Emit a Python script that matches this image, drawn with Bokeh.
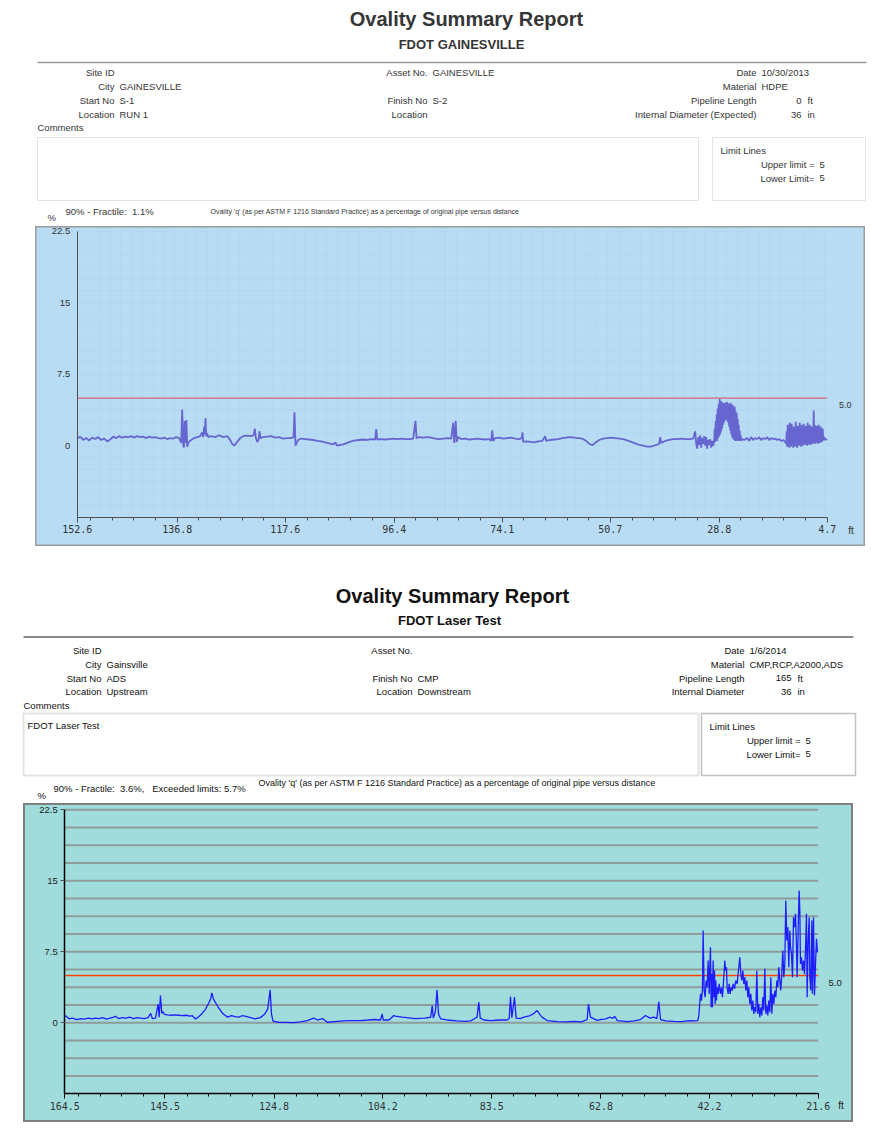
import numpy as np
from bokeh.plotting import figure
from bokeh.models import Range1d, Label, BoxAnnotation, FixedTicker, Spacer, PrintfTickFormatter
from bokeh.layouts import column, row
from bokeh.embed import file_html
from bokeh.resources import INLINE

# ======================= DATA =======================
TITLE = "Ovality Summary Report"
CAPTION = "Ovality 'q' (as per ASTM F 1216 Standard Practice) as a percentage of original pipe versus distance"

# ---- report 1 (scanned) ----
R1_SUBTITLE = "FDOT GAINESVILLE"
R1_LEFT_LABELS = ["Site ID", "City", "Start No", "Location"]
R1_LEFT_VALUES = ["", "GAINESVILLE", "S-1", "RUN 1"]
R1_MID_LABELS = ["Asset No.", "", "Finish No", "Location"]
R1_MID_VALUES = ["GAINESVILLE", "", "S-2", ""]
R1_RIGHT_LABELS = ["Date", "Material", "Pipeline Length", "Internal Diameter (Expected)"]
R1_RIGHT_VALUES = ["10/30/2013", "HDPE", "", ""]
R1_NUMBERS = ["", "", "0", "36"]
R1_UNITS = ["", "", "ft", "in"]
R1_COMMENT = ""
R1_UPPER = 5
R1_LOWER = 5
R1_STATS = "90% - Fractile:\u00a0 1.1%"

CH1_TICK_LABELS = ["152.6", "136.8", "117.6", "96.4", "74.1", "50.7", "28.8", "4.7"]
CH1_TICK_POS = [0, 100, 208, 317, 425, 533, 642, 750]       # sample position along run
CH1_LIMIT = 5.0
# (sample position, ovality %)
CH1_TRACE = [
    (0, 0.75), (3, 0.95), (6, 0.6), (9, 0.8), (12, 0.55), (15, 0.85), (18, 0.7), (21, 0.9), (24, 0.6),
    (27, 0.75), (30, 0.45), (33, 0.65), (36, 0.95), (39, 0.8), (42, 1.0), (45, 0.85), (48, 0.95), (51, 0.9),
    (54, 1.0), (57, 0.85), (60, 1.0), (63, 0.9), (66, 0.95), (69, 0.8), (72, 0.95), (75, 0.85), (78, 0.9),
    (81, 0.8), (84, 0.75), (87, 0.85), (90, 0.7), (93, 0.8), (96, 0.75), (99, 0.9), (102, 0.8), (104, 0.3),
    (105, 3.8), (106, 0.1), (106.7, -0.2), (107.5, 2.6), (108.3, 0.3), (109.2, 2.7), (110, -0.1), (111.5, 0.4),
    (114, 0.6), (117, 0.8), (120, 0.9), (123, 1.0), (125, 1.4), (126, 0.9), (127, 2.0), (127.6, 1.2),
    (128.3, 2.9), (129, 1.0), (130, 1.3), (131, 0.9), (134, 1.0), (138, 0.9), (142, 1.1), (146, 0.9),
    (150, 1.0), (153, 0.6), (155, 0.2), (157, 0.0), (160, 0.4), (163, 0.8), (166, 1.0), (170, 1.05),
    (174, 1.0), (176.5, 1.1), (177.6, 1.8), (178.5, 0.9), (180, 0.4), (181.3, 0.6), (182.3, 1.5), (183.3, 0.8),
    (186, 0.9), (190, 0.95), (194, 1.0), (198, 0.85), (202, 0.9), (206, 0.75), (210, 0.8), (214, 0.8),
    (216.3, 0.9), (217.3, 3.5), (218.3, 0.0), (219.5, 0.3), (221, 0.6), (224, 0.75), (228, 0.7), (232, 0.65),
    (236, 0.6), (240, 0.5), (244, 0.45), (248, 0.35), (252, 0.25), (256, 0.15), (258.3, 0.35), (259.3, 0.05),
    (262, 0.05), (266, 0.15), (270, 0.3), (274, 0.45), (278, 0.55), (282, 0.6), (286, 0.65), (290, 0.6),
    (294, 0.7), (298, 0.65), (299, 1.75), (300, 0.65), (304, 0.7), (308, 0.65), (312, 0.7), (316, 0.75),
    (320, 0.7), (324, 0.75), (328, 0.7), (332, 0.7), (336, 0.75), (338.3, 2.6), (339.3, 0.8), (342, 0.9),
    (346, 0.85), (350, 0.9), (354, 0.85), (358, 0.75), (362, 0.7), (366, 0.75), (370, 0.8), (374, 0.75),
    (376, 2.4), (377, 0.3), (378.5, 2.6), (379.5, 0.4), (381, 0.9), (384, 0.7), (388, 0.75), (392, 0.65),
    (396, 0.7), (400, 0.75), (404, 0.7), (408, 0.65), (412, 0.7), (414, 0.5), (415, 1.6), (416, 0.5),
    (418, 0.8), (422, 0.85), (426, 0.75), (430, 0.8), (434, 0.85), (438, 0.75), (442, 0.7), (444.5, 0.8),
    (445.3, 1.4), (446, 0.4), (449, 0.45), (453, 0.4), (457, 0.35), (461, 0.45), (465, 0.5), (468, 1.0),
    (469, 0.5), (473, 0.6), (477, 0.65), (481, 0.7), (485, 0.8), (489, 0.85), (493, 0.9), (497, 0.85),
    (501, 0.8), (505, 0.75), (509, 0.5), (512, 0.2), (515, 0.05), (518, 0.3), (522, 0.6), (526, 0.75),
    (530, 0.8), (534, 0.85), (538, 0.8), (542, 0.75), (546, 0.7), (550, 0.55), (554, 0.4), (558, 0.25),
    (562, 0.1), (566, 0.0), (570, -0.1), (574, -0.1), (578, 0.05), (582, 0.2), (583, 0.9), (584, 0.3),
    (588, 0.5), (592, 0.6), (596, 0.7), (600, 0.7), (604, 0.75), (608, 0.7), (612, 0.7), (616, 0.75),
    (618, 1.5), (619, 0.2), (620, -0.3), (621, 0.9), (622, 0.1), (623, 1.1), (624, -0.2), (625, 0.8),
    (626, 0.2), (627, 1.0), (628, 0.0), (629, 0.9), (630, -0.3), (631, 0.6), (632, 0.1), (633, 0.7),
    (634, -0.2), (635, 0.5), (636, 0.0),
    (637, 0.5), (637.5, 1.8), (638, 0.4), (638.5, 2.6), (639, 0.6), (639.5, 3.3), (640, 0.5), (640.5, 3.9),
    (641, 0.8), (641.5, 4.4), (642, 1.0), (642.5, 4.9), (643, 1.2), (643.5, 4.7), (644, 1.5), (644.5, 4.6),
    (645, 1.8), (645.5, 4.5), (646, 2.2), (646.5, 4.4), (647, 2.5), (647.5, 4.5), (648, 2.7), (648.5, 4.4),
    (649, 2.8), (649.5, 4.6), (650, 2.6), (650.5, 4.5), (651, 2.4), (651.5, 4.3), (652, 2.0), (652.5, 4.4),
    (653, 1.6), (653.5, 4.5), (654, 1.2), (654.5, 4.2), (655, 0.9), (655.5, 4.3), (656, 0.7), (656.5, 4.0),
    (657, 0.6), (657.5, 4.1), (658, 0.5), (658.5, 3.6), (659, 0.6), (659.5, 3.4), (660, 0.5), (660.5, 2.8),
    (661, 0.6), (661.5, 2.2), (662, 0.5), (662.5, 1.6), (663, 0.6), (663.5, 1.1), (664, 0.5), (665, 0.7),
    (667, 0.6), (670, 0.8), (672, 0.5), (674, 0.9), (676, 0.6), (678, 0.8), (680, 0.7), (682, 0.9),
    (684, 0.6), (686, 0.8), (688, 0.7), (690, 0.9), (692, 0.6), (694, 0.8), (696, 0.7), (698, 0.75),
    (700, 0.6), (702, 0.7), (704, 0.5), (706, 0.6), (708, 0.4),
    (709, 0.2), (709.5, 1.5), (710, -0.1), (710.5, 2.2), (711, 0.2), (711.5, 1.2), (712, -0.2), (712.5, 2.4),
    (713, 0.3), (713.5, 1.0), (714, -0.1), (714.5, 2.3), (715, 0.1), (715.5, 1.4), (716, -0.2), (716.5, 2.0),
    (717, 0.4), (717.5, 0.9), (718, -0.1), (718.5, 2.5), (719, 0.2), (719.5, 1.3), (720, -0.2), (720.5, 2.1),
    (721, 0.3), (721.5, 1.0), (722, 0.0), (722.5, 2.4), (723, 0.2), (723.5, 1.1), (724, -0.1), (724.5, 2.2),
    (725, 0.3), (725.5, 1.5), (726, 0.0), (726.5, 2.3), (727, 0.2), (727.5, 1.2), (728, 0.1), (728.5, 2.1),
    (729, 0.3), (729.5, 1.0), (730, 0.0), (730.5, 2.4), (731, 0.2), (731.5, 1.3), (732, 0.1), (732.5, 2.2),
    (733, 0.4), (733.5, 1.1), (734, 0.1), (734.5, 2.0), (735, 0.3), (735.5, 1.4), (736, 0.2), (736.5, 3.7),
    (737, 0.3), (737.5, 2.2), (738, 0.2), (738.5, 1.2), (739, 0.4), (739.5, 2.1), (740, 0.3), (740.5, 1.0),
    (741, 0.2), (741.5, 2.2), (742, 0.4), (742.5, 1.1), (743, 0.3), (743.5, 2.0), (744, 0.5), (744.5, 1.2),
    (745, 0.4), (745.5, 1.8), (746, 0.6), (747, 0.9), (748, 0.6), (750, 0.7),
]

# ---- report 2 ----
R2_SUBTITLE = "FDOT Laser Test"
R2_LEFT_LABELS = ["Site ID", "City", "Start No", "Location"]
R2_LEFT_VALUES = ["", "Gainsville", "ADS", "Upstream"]
R2_MID_LABELS = ["Asset No.", "", "Finish No", "Location"]
R2_MID_VALUES = ["", "", "CMP", "Downstream"]
R2_RIGHT_LABELS = ["Date", "Material", "Pipeline Length", "Internal Diameter"]
R2_RIGHT_VALUES = ["1/6/2014", "CMP,RCP,A2000,ADS", "", ""]
R2_NUMBERS = ["", "", "165", "36"]
R2_UNITS = ["", "", "ft", "in"]
R2_COMMENT = "FDOT Laser Test"
R2_UPPER = 5
R2_LOWER = 5
R2_STATS = "90% - Fractile:\u00a0 3.6%,\u00a0\u00a0 Exceeded limits: 5.7%"

CH2_TICKS = [164.5, 145.5, 124.8, 104.2, 83.5, 62.8, 42.2, 21.6]   # distance, ft
CH2_LIMIT = 5.0
# (distance ft, ovality %)
CH2_TRACE = [
    (164.4, 0.77), (163.7, 0.42), (163.1, 0.5), (162.2, 0.35), (161.5, 0.45), (160.9, 0.4), (160.0, 0.5),
    (159.3, 0.42), (158.7, 0.5), (158.0, 0.45), (157.3, 0.55), (156.6, 0.4), (155.9, 0.5), (155.2, 0.6),
    (154.9, 0.7), (154.3, 0.45), (153.6, 0.55), (152.9, 0.5), (152.2, 0.6), (151.5, 0.45), (150.8, 0.55),
    (150.1, 0.5), (149.4, 0.45), (148.7, 0.55), (148.2, 1.0), (147.9, 0.45), (147.3, 0.5), (146.8, 1.97),
    (146.6, 0.6), (146.35, 2.88), (146.1, 1.0), (145.9, 1.2), (145.6, 0.9), (145.0, 0.85), (144.3, 0.8),
    (143.6, 0.85), (142.9, 0.8), (142.2, 0.75), (141.5, 0.8), (140.8, 0.7), (140.3, 0.75), (139.7, 0.4),
    (139.1, 0.65), (138.5, 0.95), (137.9, 1.37), (137.2, 2.07), (136.8, 2.6), (136.6, 3.16), (136.3, 2.5),
    (135.4, 1.65), (134.5, 0.95), (133.6, 0.6), (132.9, 0.77), (132.2, 0.65), (131.5, 0.6), (130.9, 0.75),
    (130.3, 0.7), (129.6, 0.6), (128.9, 0.5), (128.5, 0.42), (127.4, 0.55), (126.6, 0.9), (126.0, 1.47),
    (125.55, 3.48), (125.3, 0.95), (125.0, 0.17), (124.0, 0.06), (122.8, 0.05), (121.1, 0.03), (119.8, 0.1),
    (118.5, 0.24), (117.3, 0.49), (116.5, 0.3), (115.6, 0.45), (114.7, 0.06), (112.8, 0.15), (110.9, 0.24),
    (108.4, 0.24), (106.9, 0.3), (105.8, 0.35), (104.6, 0.3), (104.3, 0.95), (104.1, 0.3), (103.0, 0.3),
    (102.1, 0.77), (101.8, 0.7), (100.5, 0.6), (98.0, 0.45), (96.2, 0.5), (95.1, 0.59), (94.8, 1.82),
    (94.6, 0.5), (94.2, 1.2), (93.9, 3.48), (93.6, 0.9), (93.2, 0.42), (92.0, 0.3), (90.1, 0.2), (88.5, 0.15),
    (87.5, 0.2), (86.9, 0.4), (86.3, 0.6), (85.97, 2.18), (85.7, 0.5), (85.0, 0.3), (83.8, 0.24), (82.0, 0.3),
    (80.6, 0.3), (80.2, 0.45), (79.96, 2.78), (79.7, 0.55), (79.2, 2.71), (78.9, 0.5), (78.1, 0.45),
    (77.4, 0.6), (76.2, 0.77), (75.5, 1.0), (74.9, 1.3), (74.4, 0.9), (74.0, 0.6), (73.0, 0.24), (71.1, 0.13),
    (69.5, 0.1), (67.95, 0.15), (66.5, 0.1), (65.42, 0.35), (65.17, 1.97), (64.79, 0.6), (63.5, 0.25),
    (62.9, 0.35), (62.0, 0.4), (61.6, 0.5), (61.0, 0.59), (60.6, 0.45), (60.2, 0.7), (59.73, 0.24),
    (57.83, 0.13), (56.5, 0.2), (55.3, 0.35), (54.36, 0.77), (53.5, 0.5), (52.77, 0.6), (52.2, 0.45),
    (51.83, 2.25), (51.5, 0.35), (50.5, 0.2), (48.98, 0.15), (47.5, 0.13), (46.45, 0.2), (45.82, 0.24),
    (45.19, 0.2), (44.43, 0.24), (44.24, 0.77), (43.92, 3.06), (43.73, 2.35), (43.54, 3.59), (43.42, 9.75),
    (43.23, 3.41), (43.04, 2.71), (42.85, 4.47), (42.66, 3.76), (42.47, 6.58), (42.28, 3.06), (42.15, 5.88),
    (42.03, 7.99), (41.9, 1.65), (41.77, 5.17), (41.65, 1.65), (41.52, 6.58), (41.39, 2.71), (41.27, 5.52),
    (41.14, 2.0), (41.02, 4.47), (40.89, 2.35), (40.76, 3.76), (40.57, 3.06), (40.38, 4.11), (40.13, 3.06),
    (39.94, 3.76), (39.75, 2.71), (39.5, 4.82), (39.31, 6.58), (39.18, 5.52), (38.99, 5.88), (38.87, 3.76),
    (38.68, 3.06), (38.49, 4.11), (38.3, 3.06), (38.11, 3.76), (37.92, 3.41), (37.73, 4.11), (37.47, 3.59),
    (37.22, 4.47), (36.97, 4.11), (36.72, 5.52), (36.46, 6.93), (36.27, 5.17), (36.08, 4.47), (35.89, 5.52),
    (35.7, 4.11), (35.51, 4.82), (35.32, 3.41), (35.13, 4.47), (34.94, 2.71), (34.76, 3.76), (34.57, 2.0),
    (34.38, 3.06), (34.19, 1.3), (34.0, 2.35), (33.81, 0.95), (33.62, 1.65), (33.43, 1.12), (33.24, 5.52),
    (33.05, 0.95), (32.86, 2.0), (32.67, 0.59), (32.48, 1.65), (32.29, 0.77), (32.1, 2.71), (31.91, 1.3),
    (31.72, 5.7), (31.53, 0.95), (31.34, 1.83), (31.15, 0.77), (30.96, 2.35), (30.77, 1.12), (30.58, 4.82),
    (30.39, 0.95), (30.2, 3.06), (30.01, 2.0), (29.82, 3.41), (29.63, 2.71), (29.44, 4.47), (29.26, 3.76),
    (29.07, 5.88), (28.88, 4.47), (28.69, 3.41), (28.5, 5.17), (28.31, 7.64), (28.12, 4.82), (27.93, 6.23),
    (27.74, 12.92), (27.55, 8.69), (27.36, 10.1), (27.17, 5.88), (26.98, 9.75), (26.85, 7.99), (26.66, 7.28),
    (26.47, 4.82), (26.28, 11.16), (26.09, 10.1), (25.9, 11.51), (25.71, 7.99), (25.59, 4.82), (25.4, 9.75),
    (25.21, 13.97), (25.08, 11.86), (24.96, 6.23), (24.77, 6.93), (24.58, 5.52), (24.39, 6.58), (24.2, 5.17),
    (24.01, 7.64), (23.82, 11.51), (23.69, 2.71), (23.5, 8.69), (23.31, 11.16), (23.18, 4.82), (22.99, 3.41),
    (22.8, 10.8), (22.68, 3.06), (22.49, 11.16), (22.3, 2.88), (22.11, 6.23), (21.92, 8.87), (21.73, 7.46),
]

# ======================= STYLE HELPERS =======================
W = 875


def header_fig(top, bottom):
    p = figure(width=W, height=bottom - top, x_range=Range1d(0, W), y_range=Range1d(bottom, top),
               output_backend="svg", toolbar_location=None, min_border=0,
               x_axis_location=None, y_axis_location=None)
    p.grid.visible = False
    p.outline_line_color = None
    p.background_fill_color = "white"
    p.border_fill_color = "white"
    return p


def put(p, x, y, s, size="9.5px", align="left", bold=False, color="#222222", font="Liberation Sans"):
    if s == "":
        return
    p.add_layout(Label(x=x, y=y, text=s, text_font=font, text_font_size=size, text_align=align,
                       text_baseline="middle", text_font_style="bold" if bold else "normal",
                       text_color=color))


def box(p, l, t, r, b, color, width):
    p.add_layout(BoxAnnotation(left=l, right=r, top=t, bottom=b, fill_alpha=0,
                               line_color=color, line_width=width))


def header(p, g, subtitle, lls, lvs, mls, mvs, rls, rvs, nums, units, comment, upper, lower, stats):
    c = g["color"]
    put(p, g["title_x"], g["title_y"], TITLE, size="20px", align="center", bold=True, color=c)
    put(p, g["sub_x"], g["sub_y"], subtitle, size="13px", align="center", bold=True, color=c)
    p.line(g["rule_x"], [g["rule_y"]] * 2, line_color=g["rule_color"], line_width=g["rule_w"])
    for i, y in enumerate(g["rows"]):
        put(p, g["lx"], y, lls[i], align="right", color=c)
        put(p, g["lx"] + 5, y, lvs[i], color=c)
        put(p, g["mx"], y, mls[i], align="right", color=c)
        put(p, g["mx"] + 5, y, mvs[i], color=c)
        put(p, g["rx"], y, rls[i], align="right", color=c)
        put(p, g["rx"] + 5, y, rvs[i], color=c)
        put(p, g["nx"], y, nums[i], align="right", color=c)
        put(p, g["nx"] + 6, y, units[i], color=c)
    put(p, g["cx"], g["cy"], "Comments", color=c)
    box(p, *g["cbox"], g["cbox_color"], g["cbox_w"])
    put(p, g["cbox"][0] + 4, g["cbox"][1] + 12, comment, color=c)
    box(p, *g["lbox"], g["lbox_color"], g["lbox_w"])
    l, t = g["lbox"][0], g["lbox"][1]
    put(p, l + 8, t + 13, "Limit Lines", color=c)
    put(p, g["lim_x"], t + 27, "Upper limit =", align="right", color=c)
    put(p, g["lim_x"] + 5, t + 27, str(upper), color=c)
    put(p, g["lim_x"], t + 40.5, "Lower Limit=", align="right", color=c)
    put(p, g["lim_x"] + 5, t + 40.5, str(lower), color=c)
    put(p, g["sx"], g["sy"], stats, color=c)
    put(p, g["capx"], g["capy"], CAPTION, size=g["cap_size"], color=c)
    put(p, g["px"], g["py"], "%", color=c)


# ======================= REPORT 1 =======================
h1 = header_fig(0, 226)
header(h1, dict(color="#353535", title_x=466, title_y=18, sub_x=461, sub_y=44,
                rule_x=[37, 866], rule_y=62, rule_color="#9a9a9a", rule_w=1.5,
                rows=[72, 86, 100, 114], lx=114, mx=427, rx=756, nx=801,
                cx=37, cy=127, cbox=(37, 137, 698, 200), cbox_color="#a0a0a0", cbox_w=1,
                lbox=(712, 137, 865, 200), lbox_color="#a8a8a8", lbox_w=1, lim_x=814,
                sx=65, sy=211, capx=210, capy=211, cap_size="7px", px=47, py=217),
       R1_SUBTITLE, R1_LEFT_LABELS, R1_LEFT_VALUES, R1_MID_LABELS, R1_MID_VALUES,
       R1_RIGHT_LABELS, R1_RIGHT_VALUES, R1_NUMBERS, R1_UNITS, R1_COMMENT, R1_UPPER, R1_LOWER, R1_STATS)

c1 = figure(width=830, height=320, x_range=Range1d(-41.7, 788.3), y_range=Range1d(-10.57, 22.99),
            output_backend="svg", toolbar_location=None, min_border=0)
c1.background_fill_color = "#b8dcf4"
c1.border_fill_color = "#b8dcf4"
c1.outline_line_color = "#9c9c9c"
c1.outline_line_width = 2
c1.grid.visible = False
# faint graph-paper grid
gx = np.arange(CH1_TICK_POS[0], CH1_TICK_POS[-1] + 1, 10.83)
gy = np.arange(-7.5, 22.51, 1.25)
c1.segment(x0=gx, x1=gx, y0=-7.5, y1=22.5, line_color="#a4cdea", line_width=1, line_alpha=0.3)
c1.segment(x0=CH1_TICK_POS[0], x1=CH1_TICK_POS[-1], y0=gy, y1=gy, line_color="#a4cdea", line_width=1,
           line_alpha=0.3)
c1.line([CH1_TICK_POS[0], CH1_TICK_POS[-1]], [CH1_LIMIT, CH1_LIMIT], line_color="#e2607c", line_width=1.2)
x1, y1 = zip(*CH1_TRACE)
c1.line(list(x1), list(y1), line_color="#6766d0", line_width=1.8)

xa = c1.xaxis[0]
xa.fixed_location = -7.5
xa.bounds = (CH1_TICK_POS[0], CH1_TICK_POS[-1])
minor1 = [CH1_TICK_POS[-1] - 21.667 * k for k in range(1, 35) if k % 5]
xa.ticker = FixedTicker(ticks=CH1_TICK_POS, minor_ticks=minor1)
xa.major_label_overrides = {pos: lab for pos, lab in zip(CH1_TICK_POS, CH1_TICK_LABELS)}
xa.axis_line_color = "#505050"
xa.major_tick_line_color = "#505050"
xa.minor_tick_line_color = "#505050"
xa.major_tick_out = 5
xa.major_tick_in = 0
xa.minor_tick_out = 3
xa.minor_tick_in = 0
xa.major_label_standoff = 3
xa.major_label_text_font = "DejaVu Sans Mono"
xa.major_label_text_font_size = "10px"
xa.major_label_text_color = "#333333"

ya = c1.yaxis[0]
ya.fixed_location = CH1_TICK_POS[0]
ya.bounds = (-7.5, 22.5)
ya.ticker = FixedTicker(ticks=[0, 7.5, 15, 22.5], minor_ticks=[])
ya.major_label_overrides = {0: "0", 7.5: "7.5", 15: "15", 22.5: "22.5"}
ya.axis_line_color = "#505050"
ya.major_tick_out = 0
ya.major_tick_in = 0
ya.major_label_standoff = 7
ya.major_label_text_font = "Liberation Sans"
ya.major_label_text_font_size = "9.5px"
ya.major_label_text_color = "#333333"

c1.add_layout(Label(x=CH1_TICK_POS[-1], y=CH1_LIMIT, x_offset=18, y_offset=-7, text="5.0",
                    text_font="Liberation Sans", text_font_size="9px", text_align="center",
                    text_baseline="middle", text_color="#333333"))
c1.add_layout(Label(x=CH1_TICK_POS[-1], y=-7.5, x_offset=21, y_offset=-13, text="ft",
                    text_font="Liberation Sans", text_font_size="10px", text_align="left",
                    text_baseline="middle", text_color="#333333"))

# ======================= REPORT 2 =======================
h2 = header_fig(546, 803)
header(h2, dict(color="#111111", title_x=452, title_y=595, sub_x=449, sub_y=620,
                rule_x=[23, 853], rule_y=636.5, rule_color="#8a8a8a", rule_w=2,
                rows=[650, 664, 677.5, 691], lx=101, mx=412, rx=744, nx=791,
                cx=23, cy=705, cbox=(23, 713, 698, 775), cbox_color="#a6a6a6", cbox_w=2,
                lbox=(701, 713, 855, 775), lbox_color="#333333", lbox_w=1.5, lim_x=800,
                sx=53, sy=788, capx=258, capy=782, cap_size="9px", px=37, py=795),
       R2_SUBTITLE, R2_LEFT_LABELS, R2_LEFT_VALUES, R2_MID_LABELS, R2_MID_VALUES,
       R2_RIGHT_LABELS, R2_RIGHT_VALUES, R2_NUMBERS, R2_UNITS, R2_COMMENT, R2_UPPER, R2_LOWER, R2_STATS)

c2 = figure(width=830, height=319, x_range=Range1d(172.33, 14.9), y_range=Range1d(-10.53, 23.17),
            output_backend="svg", toolbar_location=None, min_border=0)
c2.background_fill_color = "#a0dcdc"
c2.border_fill_color = "#a0dcdc"
c2.outline_line_color = "#7f7f7f"
c2.outline_line_width = 3
c2.grid.visible = False
hy = np.arange(-5.625, 22.51, 1.875)
c2.segment(x0=CH2_TICKS[0], x1=CH2_TICKS[-1], y0=hy, y1=hy, line_color="#8e9c9c", line_width=2)
c2.line([CH2_TICKS[0], CH2_TICKS[-1]], [CH2_LIMIT, CH2_LIMIT], line_color="#ff4500", line_width=1.6)
x2, y2 = zip(*CH2_TRACE)
c2.line(list(x2), list(y2), line_color="#1d1dff", line_width=1.3)

xb = c2.xaxis[0]
xb.fixed_location = -7.5
xb.bounds = (CH2_TICKS[-1], CH2_TICKS[0])
minor2 = [CH2_TICKS[-1] + 4.1267 * k for k in range(1, 35) if k % 5]
xb.ticker = FixedTicker(ticks=CH2_TICKS, minor_ticks=minor2)
xb.formatter = PrintfTickFormatter(format="%.1f")
xb.axis_line_color = "#000000"
xb.axis_line_width = 1.5
xb.major_tick_line_color = "#000000"
xb.minor_tick_line_color = "#000000"
xb.major_tick_out = 5
xb.major_tick_in = 0
xb.minor_tick_out = 3
xb.minor_tick_in = 0
xb.major_label_standoff = 3
xb.major_label_text_font = "DejaVu Sans Mono"
xb.major_label_text_font_size = "10px"
xb.major_label_text_color = "#333333"

yb = c2.yaxis[0]
yb.fixed_location = CH2_TICKS[0]
yb.bounds = (-7.5, 22.5)
yb.ticker = FixedTicker(ticks=[0, 7.5, 15, 22.5], minor_ticks=[])
yb.major_label_overrides = {0: "0", 7.5: "7.5", 15: "15", 22.5: "22.5"}
yb.axis_line_color = "#000000"
yb.axis_line_width = 1.5
yb.major_tick_out = 4
yb.major_tick_in = 0
yb.major_tick_line_color = "#555555"
yb.major_label_standoff = 3
yb.major_label_text_font = "Liberation Sans"
yb.major_label_text_font_size = "9.5px"
yb.major_label_text_color = "#222222"

c2.add_layout(Label(x=CH2_TICKS[-1], y=CH2_LIMIT, x_offset=17, y_offset=-8, text="5.0",
                    text_font="Liberation Sans", text_font_size="9.5px", text_align="center",
                    text_baseline="middle", text_color="#222222"))
c2.add_layout(Label(x=CH2_TICKS[-1], y=-7.5, x_offset=20, y_offset=-12, text="ft",
                    text_font="Liberation Sans", text_font_size="10px", text_align="left",
                    text_baseline="middle", text_color="#222222"))

layout = column(
    h1,
    row(Spacer(width=35, height=320), c1, Spacer(width=10, height=320)),
    h2,
    row(Spacer(width=23, height=319), c2, Spacer(width=22, height=319)),
)

open("out.html", "w").write(file_html(layout, INLINE))
